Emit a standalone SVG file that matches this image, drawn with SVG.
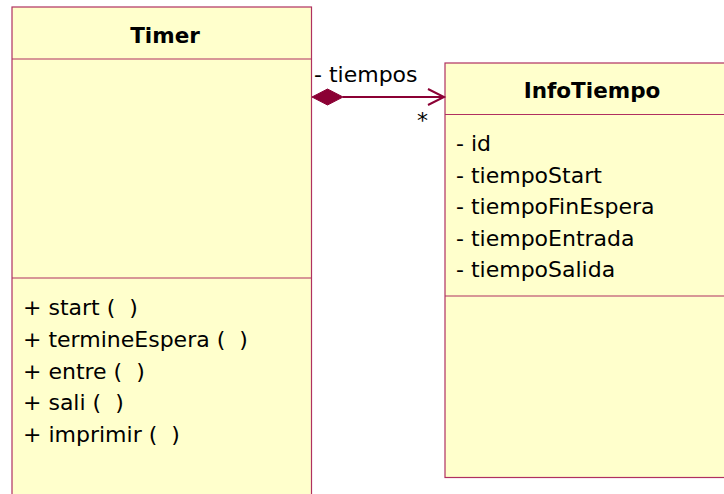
<svg xmlns="http://www.w3.org/2000/svg" width="724" height="494" viewBox="0 0 724 494">
<style>
.box{fill:#FFFFCC;stroke:#B03060;stroke-width:1.2}
.sep{stroke:#B03060;stroke-width:1.2}
.t{font-family:"DejaVu Sans",sans-serif;font-size:22px;fill:#000;white-space:pre}
.b{font-family:"DejaVu Sans",sans-serif;font-size:21.5px;font-weight:bold;fill:#000;text-anchor:middle}
.conn{stroke:#8B0034;stroke-width:2;fill:none}
</style>
<rect width="724" height="494" fill="#FFFFFF"/>
<g id="Timer">
<rect class="box" x="12" y="7" width="299.5" height="500"/>
<line class="sep" x1="12" y1="59" x2="311.5" y2="59"/>
<line class="sep" x1="12" y1="278" x2="311.5" y2="278"/>
<text class="b" x="165" y="43">Timer</text>
<text class="t" x="23" y="315" xml:space="preserve">+ start (  )</text>
<text class="t" x="23" y="347" xml:space="preserve">+ termineEspera (  )</text>
<text class="t" x="23" y="379" xml:space="preserve">+ entre (  )</text>
<text class="t" x="23" y="410" xml:space="preserve">+ sali (  )</text>
<text class="t" x="23" y="442" xml:space="preserve">+ imprimir (  )</text>
</g>
<g id="InfoTiempo">
<rect class="box" x="445" y="63" width="300" height="414.5"/>
<line class="sep" x1="445" y1="114.5" x2="745" y2="114.5"/>
<line class="sep" x1="445" y1="296" x2="745" y2="296"/>
<text class="b" x="592" y="98">InfoTiempo</text>
<text class="t" x="456" y="151">- id</text>
<text class="t" x="456" y="182.5">- tiempoStart</text>
<text class="t" x="456" y="214">- tiempoFinEspera</text>
<text class="t" x="456" y="245.5">- tiempoEntrada</text>
<text class="t" x="456" y="277">- tiempoSalida</text>
</g>
<g id="connectors">
<line class="conn" x1="343" y1="97" x2="444" y2="97"/>
<polygon points="312,97 327.5,89 343,97 327.5,105" fill="#8B0034" stroke="#8B0034" stroke-width="1"/>
<polyline class="conn" points="428,89 444,97 428,105"/>
<text class="t" x="314" y="82">- tiempos</text>
<text class="t" x="417" y="128">*</text>
</g>
</svg>
